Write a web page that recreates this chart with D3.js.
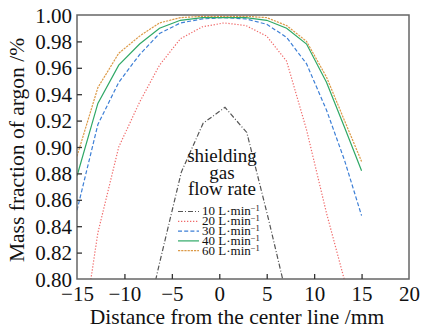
<!DOCTYPE html>
<html>
<head>
<meta charset="utf-8">
<script src="https://cdn.jsdelivr.net/npm/d3@7"></script>
<style>
  body { margin: 0; background: #fff; }
</style>
</head>
<body>
<svg id="chart" width="425" height="333"></svg>
<script>
// distances (mm) for the 20..60 L/min curves
let xs = [-15, -12.8, -10.6, -8.4, -6.3, -4.1, -1.8, 0.5, 2.8, 5.0, 7.1, 9.2, 11.3, 13.2, 15];
// the 10 L/min curve was sampled on its own grid
let xs10 = [-8.6, -6.3, -4.0, -1.7, 0.6, 2.9, 5.2, 7.5];

let flow10 = [0.740, 0.812, 0.881, 0.918, 0.930, 0.911, 0.845, 0.775];
let flow20 = [0.730, 0.835, 0.900, 0.934, 0.962, 0.982, 0.991, 0.994, 0.992, 0.984, 0.965, 0.913, 0.850, 0.799, 0.745];
let flow30 = [0.852, 0.917, 0.949, 0.970, 0.986, 0.994, 0.997, 0.998, 0.997, 0.993, 0.983, 0.963, 0.928, 0.890, 0.848];
let flow40 = [0.878, 0.933, 0.962, 0.978, 0.990, 0.996, 0.998, 0.998, 0.998, 0.996, 0.990, 0.978, 0.949, 0.915, 0.882];
let flow60 = [0.893, 0.945, 0.971, 0.984, 0.994, 0.998, 0.999, 0.999, 0.999, 0.998, 0.992, 0.980, 0.953, 0.920, 0.889];

let seriesLabels = ['10', '20', '30', '40', '60'];
let xTicks = [-15, -10, -5, 0, 5, 10, 15, 20];
let yTicks = [0.80, 0.82, 0.84, 0.86, 0.88, 0.90, 0.92, 0.94, 0.96, 0.98, 1.00];

let series = [
    {label: seriesLabels[0], x: xs10, y: flow10, color: '#555', dash: '5,2,1,2'},
    {label: seriesLabels[1], x: xs, y: flow20, color: '#f06a6a', dash: '1.3,1.7'},
    {label: seriesLabels[2], x: xs, y: flow30, color: '#3d7fd6', dash: '4,2.2'},
    {label: seriesLabels[3], x: xs, y: flow40, color: '#2fa866', dash: null},
    {label: seriesLabels[4], x: xs, y: flow60, color: '#dc9a48', dash: '2.2,1'}
];

let serif = "'Liberation Serif', 'DejaVu Serif', serif";

let margin = {left: 77, top: 15, right: 16, bottom: 54};
let width = 425 - margin.left - margin.right;
let height = 333 - margin.top - margin.bottom;

let svg = d3.select('#chart').attr('font-family', serif);
let g = svg.append('g').attr('transform', `translate(${margin.left},${margin.top})`);

let x = d3.scaleLinear().domain([-15, 20]).range([0, width]);
let y = d3.scaleLinear().domain([0.80, 1.00]).range([height, 0]);

svg.append('defs').append('clipPath').attr('id', 'clip')
    .append('rect').attr('width', width).attr('height', height);

let line = d3.line()
    .x(d => x(d[0]))
    .y(d => y(d[1]));

let curves = g.append('g').attr('clip-path', 'url(#clip)');
series.forEach(s => {
    curves.append('path')
        .datum(d3.zip(s.x, s.y))
        .attr('d', line)
        .attr('fill', 'none')
        .attr('stroke', s.color)
        .attr('stroke-width', 1.2)
        .attr('stroke-dasharray', s.dash);
});

// frame
g.append('rect')
    .attr('width', width).attr('height', height)
    .attr('fill', 'none').attr('stroke', '#666').attr('stroke-width', 1.5);

let xAxis = g.append('g')
    .attr('transform', `translate(0,${height})`)
    .call(d3.axisBottom(x).tickValues(xTicks).tickSizeInner(-5).tickSizeOuter(0).tickPadding(9)
        .tickFormat(d => d < 0 ? '\u2212' + Math.abs(d) : d));
let yAxis = g.append('g')
    .call(d3.axisLeft(y).tickValues(yTicks).tickSizeInner(-5).tickSizeOuter(0).tickPadding(5)
        .tickFormat(d3.format('.2f')));

[xAxis, yAxis].forEach(a => {
    a.attr('font-family', serif).attr('font-size', 21);
    a.select('.domain').remove();
    a.selectAll('line').attr('stroke', '#333').attr('stroke-width', 1.3);
    a.selectAll('text').attr('fill', '#111');
});
xAxis.selectAll('.tick line').filter(d => d === -15 || d === 20).remove();
yAxis.selectAll('.tick line').filter(d => d === 0.80 || d === 1.00).remove();
yAxis.selectAll('text').attr('dy', '0.34em');
xAxis.selectAll('text').attr('dy', '0.6em');

svg.append('text')
    .attr('x', margin.left + width / 2 - 6)
    .attr('y', 324)
    .attr('text-anchor', 'middle')
    .attr('font-size', 21.5)
    .attr('fill', '#111')
    .text('Distance from the center line /mm');

svg.append('text')
    .attr('transform', `translate(24,${margin.top + height / 2 + 3}) rotate(-90)`)
    .attr('text-anchor', 'middle')
    .attr('font-size', 21.5)
    .attr('fill', '#111')
    .text('Mass fraction of argon /%');

// legend
let lg = svg.append('g');
['shielding', 'gas', 'flow rate'].forEach((t, i) => {
    lg.append('text')
        .attr('x', 222).attr('y', 162 + i * 16.5)
        .attr('text-anchor', 'middle')
        .attr('font-size', 19)
        .attr('fill', '#111')
        .text(t);
});
series.forEach((s, i) => {
    let yy = 211.5 + i * 9.8;
    lg.append('line')
        .attr('x1', 178).attr('x2', 199).attr('y1', yy).attr('y2', yy)
        .attr('stroke', s.color).attr('stroke-width', 1.2)
        .attr('stroke-dasharray', s.dash);
    let t = lg.append('text')
        .attr('x', 202).attr('y', yy + 3.8)
        .attr('font-size', 13)
        .attr('fill', '#111');
    t.append('tspan').text(s.label + ' L\u00b7min');
    t.append('tspan').attr('dy', -4).attr('font-size', 8.5).text('\u22121');
});
</script>
</body>
</html>
